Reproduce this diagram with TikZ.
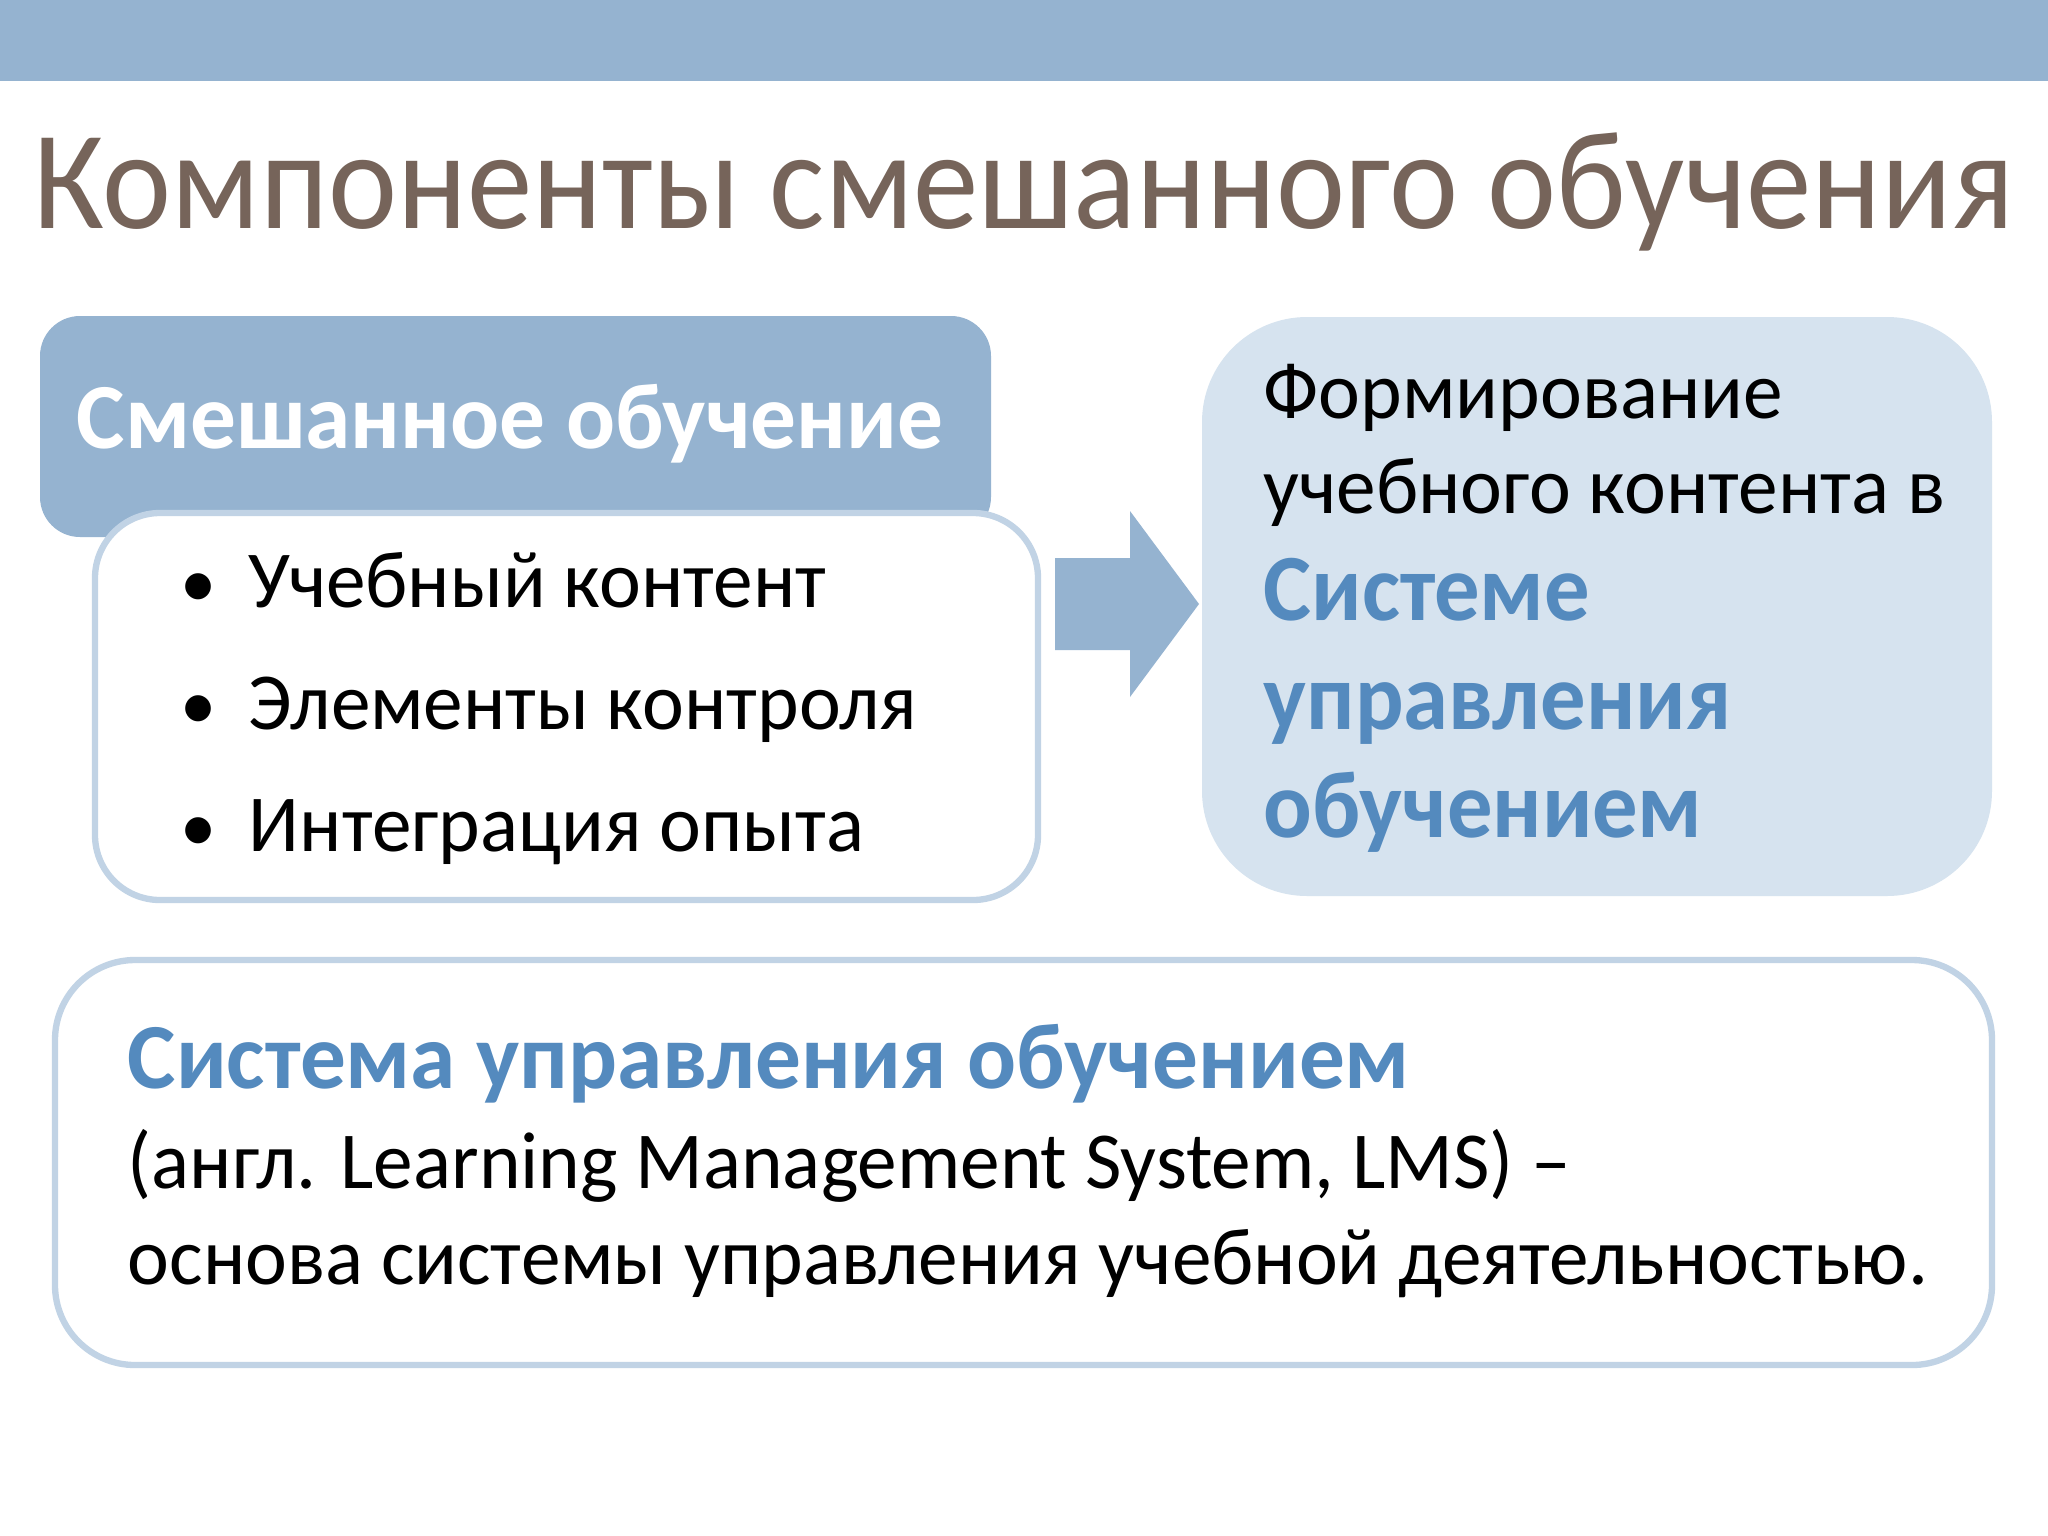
\documentclass[tikz,border=0pt]{standalone}
\usepackage{fontspec}
\setmainfont[FakeStretch=0.98]{Carlito}
\newfontfamily\titlefont[FakeStretch=0.93]{Carlito}
\newfontfamily\narrowfont[FakeStretch=0.955]{Carlito}
\definecolor{barblue}{RGB}{149,179,208}
\definecolor{titlebrown}{RGB}{118,100,90}
\definecolor{paleblue}{RGB}{214,227,239}
\definecolor{edgeblue}{RGB}{193,211,229}
\definecolor{textblue}{RGB}{84,138,190}
\tikzset{
  panel/.style={draw=edgeblue, line width=1.8pt, fill=white},
  txt/.style={anchor=base west, inner sep=0pt, font=\fontsize{23}{28}\selectfont},
  bluetxt/.style={anchor=base west, inner sep=0pt, text=textblue, font=\fontsize{27}{32}\selectfont\narrowfont\bfseries},
}

\begin{document}
\begin{tikzpicture}[x=0.01cm, y=-0.01cm]
			%%%%% START %%%%%
			\useasboundingbox[fill=white] (0,0) rectangle (2048,1536);
			\fill[barblue] (0,0) rectangle (2048,81);
			
			\node[anchor=base west, inner sep=0pt, text=titlebrown, font=\fontsize{40}{48}\selectfont\titlefont] (title) at (33,228) {Компоненты смешанного обучения};
			
			\fill[barblue, rounded corners=0.4cm] (40,316) rectangle (991,537);
			\node[txt, text=white, font=\fontsize{26.5}{32}\selectfont\bfseries] (mixhead) at (76,448) {Смешанное обучение};
			
			\draw[panel, rounded corners=0.65cm] (95,513) rectangle (1038,900);
			\foreach \item [count=\i] in {Учебный контент, Элементы контроля, Интеграция опыта} {
				\pgfmathsetmacro{\yy}{607+(\i-1)*122}
				\node[anchor=base, inner sep=0pt, font=\fontsize{21}{26}\selectfont] (dot\i) at (199,\yy) {•};
				\node[txt] (item\i) at (248,\yy) {\item};
			}
			
			\fill[barblue] (1055,558) -- (1130,558) -- (1130,511) -- (1199,604) -- (1130,697) -- (1130,650) -- (1055,650) -- cycle;
			
			\fill[paleblue, rounded corners=1.05cm] (1202,317) rectangle (1992,896);
			\node[txt] (form1) at (1263,418) {Формирование};
			\node[txt] (form2) at (1263,513) {учебного контента в};
			\node[bluetxt] (lms1) at (1263,620) {Системе};
			\node[bluetxt] (lms2) at (1263,729) {управления};
			\node[bluetxt] (lms3) at (1263,837) {обучением};
			
			\draw[panel, rounded corners=0.8cm] (55,960) rectangle (1992,1365);
			\node[bluetxt, font=\fontsize{26.5}{32}\selectfont\bfseries] (defhead) at (127,1088) {Система управления обучением};
			\node[txt] (def1) at (127,1188) {(англ. Learning Management System, LMS) –};
			\node[txt] (def2) at (127,1284) {основа системы управления учебной деятельностью.};
			%%%%% END %%%%%
\end{tikzpicture}
\end{document}
